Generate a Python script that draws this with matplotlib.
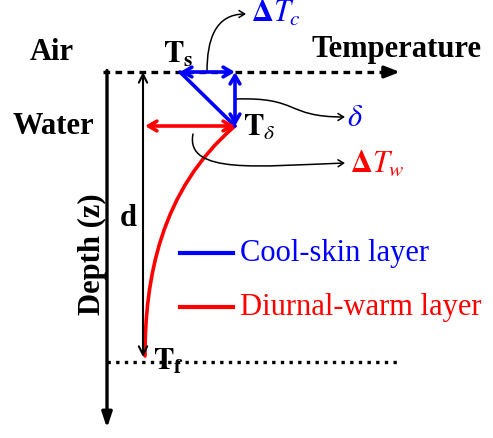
import matplotlib.pyplot as plt
from matplotlib.patches import FancyArrowPatch
from matplotlib.path import Path

plt.rcParams["font.family"] = ["Liberation Serif", "DejaVu Serif"]
plt.rcParams["mathtext.fontset"] = "stix"

# schematic coordinates (pixel space: x = temperature, y = depth, downward)
surface_y = 72
delta_y = 126
foundation_y = 362
axis_x = 107
d_x = 143
t_s = (180, surface_y)
t_delta = (235, delta_y)
t_f_x = 145

# diurnal-warm profile (bezier control points, temperature vs depth)
warm_profile_x = [235, 160, 145, 145]
warm_profile_y = [126, 190, 280, 356]

legend_labels = ["Cool-skin layer", "Diurnal-warm layer"]
legend_colors = ["blue", "red"]
legend_y = [253, 307]

fig = plt.figure(figsize=(4.93, 4.38), dpi=100)
ax = fig.add_axes([0, 0, 1, 1])
ax.set_xlim(0, 493)
ax.set_ylim(438, 0)
ax.axis("off")

# temperature axis (dashed) at the surface
ax.plot([axis_x - 4, 392], [surface_y, surface_y], color="black", lw=2.4,
        linestyle=(0, (2.0, 1.6)))
ax.annotate("", xy=(400, surface_y), xytext=(388, surface_y),
            arrowprops=dict(arrowstyle="-|>,head_length=0.9,head_width=0.35",
                            color="black", lw=2.4, shrinkA=0, shrinkB=0))

# depth axis
ax.annotate("", xy=(axis_x, 428), xytext=(axis_x, surface_y - 1.5),
            arrowprops=dict(arrowstyle="-|>,head_length=0.9,head_width=0.3",
                            color="black", lw=2.4, shrinkA=0, shrinkB=0))

# foundation depth (dotted)
ax.plot([axis_x, 398], [foundation_y, foundation_y], color="black", lw=2.4,
        linestyle=(0, (1.0, 1.6)))

# depth d
ax.annotate("", xy=(d_x, surface_y), xytext=(d_x, 357),
            arrowprops=dict(arrowstyle="<->,head_length=0.6,head_width=0.3",
                            color="black", lw=1.5, shrinkA=0, shrinkB=0))

# cool-skin layer
blue_arrow = dict(arrowstyle="<->,head_length=0.6,head_width=0.35",
                  color="blue", lw=2.6, shrinkA=0, shrinkB=0)
ax.annotate("", xy=(t_s[0], surface_y), xytext=(t_delta[0], surface_y),
            arrowprops=blue_arrow)
ax.annotate("", xy=(t_delta[0], surface_y), xytext=(t_delta[0], delta_y),
            arrowprops=blue_arrow)
ax.plot([t_s[0], t_delta[0]], [surface_y, delta_y], color="blue", lw=2.6,
        solid_capstyle="round")

# diurnal-warm layer
ax.annotate("", xy=(t_f_x, delta_y), xytext=(t_delta[0], delta_y),
            arrowprops=dict(arrowstyle="<->,head_length=0.6,head_width=0.35",
                            color="red", lw=2.6, shrinkA=0, shrinkB=0))
warm = Path(list(zip(warm_profile_x, warm_profile_y)),
            [Path.MOVETO, Path.CURVE4, Path.CURVE4, Path.CURVE4])
ax.add_patch(FancyArrowPatch(path=warm, arrowstyle="-", color="red", lw=2.6))

# callout arrows
callouts = [
    [(207, 72), (207, 40), (215, 14), (246, 14)],
    [(236, 99), (300, 97), (285, 117), (345, 117)],
    [(193, 134), (185, 175), (260, 166), (345, 163)],
]
for pts in callouts:
    p = Path(pts, [Path.MOVETO, Path.CURVE4, Path.CURVE4, Path.CURVE4])
    ax.add_patch(FancyArrowPatch(path=p, color="black", lw=1.1,
                                 arrowstyle="->,head_length=4,head_width=2.5"))

# labels
bold = dict(fontweight="bold", fontsize=22, color="black")
ax.text(52, 53, "Air", ha="center", va="center", **bold)
ax.text(53, 126, "Water", ha="center", va="center", **bold)
ax.text(397, 50, "Temperature", ha="center", va="center", **bold)
ax.text(128, 218, "d", ha="center", va="center", **bold)
ax.text(92, 254, "Depth (z)", ha="center", va="center", rotation=90, **bold)
ax.text(178, 55, r"$\mathbf{T_s}$", ha="center", va="center", fontsize=22)
ax.text(243, 128, r"$\mathbf{T}_\delta$", ha="left", va="center", fontsize=22)
ax.text(153, 362, r"$\mathbf{T_f}$", ha="left", va="center", fontsize=22)
ax.text(251, 14, r"$\mathbf{\Delta}T_c$", ha="left", va="center",
        fontsize=22, color="blue")
ax.text(347, 118, r"$\delta$", ha="left", va="center", fontsize=22, color="blue")
ax.text(350, 164, r"$\mathbf{\Delta}T_w$", ha="left", va="center",
        fontsize=22, color="red")

# legend drawn inline
for label, color, y in zip(legend_labels, legend_colors, legend_y):
    ax.plot([180, 233], [y, y], color=color, lw=3)
    ax.text(240, y, label, ha="left", va="center", fontsize=22, color=color)

fig.savefig("out.png", dpi=100)
